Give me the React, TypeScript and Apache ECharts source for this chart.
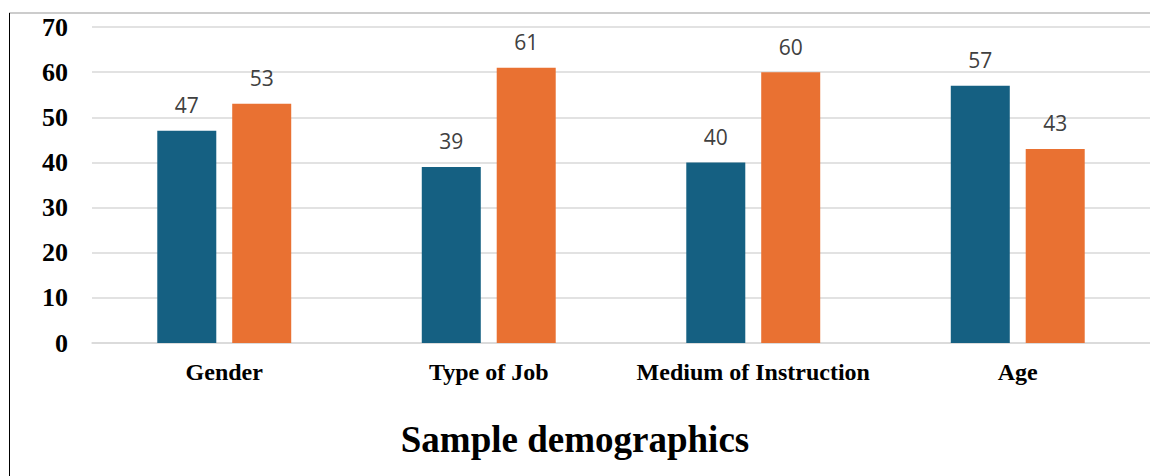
import React, { useEffect, useRef } from "react";
import * as echarts from "echarts";

const categories = ["Gender", "Type of Job", "Medium of Instruction", "Age"];
const seriesA = [47, 39, 40, 57];
const seriesB = [53, 61, 60, 43];
const yTicks = [0, 10, 20, 30, 40, 50, 60, 70];
const titleText = "Sample demographics";

export default function App() {
  const ref = useRef<HTMLDivElement>(null);
  useEffect(() => {
    if (!ref.current) return;
    const chart = echarts.init(ref.current, null, { renderer: "svg" });
    const serif = "'Liberation Serif', 'Times New Roman', serif";
    const sans = "'Open Sans', 'Liberation Sans', sans-serif";
    const labelStyle = {
      show: true,
      position: "top" as const,
      distance: 15,
      color: "#404040",
      fontFamily: sans,
      fontSize: 21,
    };
    chart.setOption({
      animation: false,
      backgroundColor: "#ffffff",
      title: {
        text: titleText,
        left: "center",
        top: 416,
        textStyle: { fontFamily: serif, fontWeight: "bold", fontSize: 37, color: "#000" },
      },
      grid: { left: 92, right: 0, top: 27, bottom: 133, containLabel: false },
      xAxis: {
        type: "category",
        data: categories,
        axisTick: { show: false },
        axisLine: { show: true, lineStyle: { color: "#d9d9d9", width: 1.5 } },
        axisLabel: { interval: 0, margin: 17, fontFamily: serif, fontWeight: "bold", fontSize: 24, color: "#000" },
      },
      yAxis: {
        type: "value",
        min: yTicks[0],
        max: yTicks[yTicks.length - 1],
        interval: 10,
        axisLine: { show: false },
        axisTick: { show: false },
        splitLine: { lineStyle: { color: "#d9d9d9", width: 1.5 } },
        axisLabel: { margin: 24, fontFamily: serif, fontWeight: "bold", fontSize: 26, color: "#000" },
      },
      series: [
        {
          name: "Series 1",
          type: "bar",
          data: seriesA,
          barWidth: 59,
          barGap: "27%",
          itemStyle: { color: "#156082" },
          label: labelStyle,
        },
        {
          name: "Series 2",
          type: "bar",
          data: seriesB,
          barWidth: 59,
          itemStyle: { color: "#E97132" },
          label: labelStyle,
        },
      ],
      graphic: [
        { type: "line", shape: { x1: 9, y1: 13, x2: 1150, y2: 13 }, style: { stroke: "#999999", lineWidth: 1 } },
        { type: "line", shape: { x1: 9.5, y1: 13, x2: 9.5, y2: 476 }, style: { stroke: "#000000", lineWidth: 1 } },
      ],
    });
    return () => chart.dispose();
  }, []);
  return (
    <div
      ref={ref}
      style={{ position: "fixed", left: 0, top: 0, width: 1150, height: 476, background: "#fff" }}
    />
  );
}
